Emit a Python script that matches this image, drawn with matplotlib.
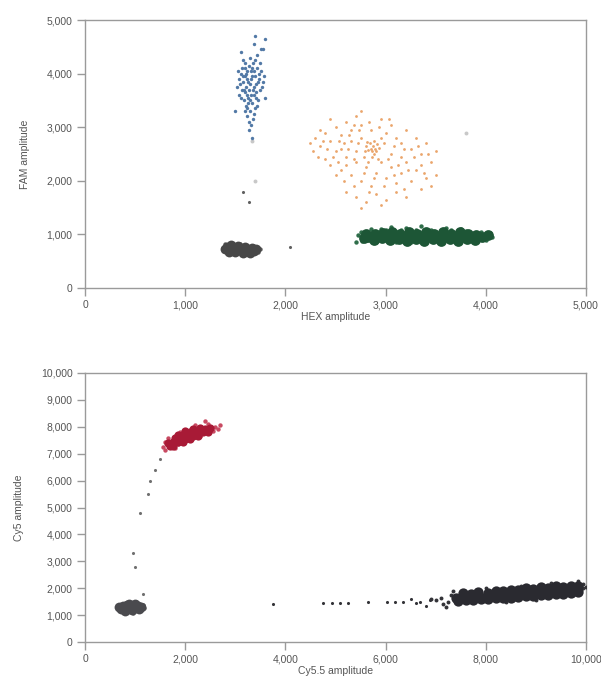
import matplotlib
matplotlib.use("Agg")
import matplotlib.pyplot as plt

plt.rcParams['font.family'] = ['Liberation Sans', 'DejaVu Sans']

# ---------------- Top panel: FAM vs HEX amplitude ----------------
blue_pts = [(1650,3800),(1620,3900),(1680,3700),(1600,3650),(1700,3950),(1660,4050),(1630,3550),(1710,3800),
            (1580,3850),(1690,3600),(1640,4150),(1720,4100),(1570,3700),(1610,3400),(1670,3450),(1740,3900),
            (1560,4000),(1650,3300),(1700,3350),(1620,3200),(1680,3150),(1660,3050),(1700,4250),(1600,4200),
            (1750,3700),(1540,3600),(1590,3500),(1730,3500),(1640,3700),(1670,3950),(1620,4050),(1690,4050),
            (1580,3950),(1650,4300),(1720,4350),(1760,4450),(1780,4450),(1690,4550),(1700,4700),(1800,4650),
            (1560,4400),(1520,3750),(1800,3550),(1780,3850),(1640,2950),(1670,2800),(1500,3300),(1610,3750),
            (1660,3600),(1630,3850),(1710,3650),(1600,3950),(1690,3750),(1650,3500),(1620,3600),(1740,4000),
            (1680,4200),(1570,4100),(1660,3900),(1630,3450),(1550,3800),(1590,3700),(1770,3750),(1760,4050),
            (1540,3900),(1600,3300),(1720,3400),(1580,4250),(1750,4200),(1620,3350),(1710,3550),(1560,3550),
            (1790,3950),(1530,4050),(1690,3250),(1640,3100),(1600,4100),(1730,3850),(1670,4100),(1610,4000)]
orange_pts = [(2850,2600),(2870,2650),(2820,2580),(2900,2550),(2840,2700),(2880,2500),(2800,2650),(2930,2620),
              (2860,2450),(2300,2800),(2350,2650),(2250,2700),(2400,2900),(2450,2750),(2500,3000),(2550,2850),
              (2600,3100),(2650,2950),(2700,3200),(2750,3050),(2950,3150),(3000,2900),(3050,3050),(3100,2800),
              (3150,2700),(3200,2950),(3250,2600),(3300,2800),(3350,2500),(3400,2700),(3450,2350),(3500,2550),
              (2400,2400),(2450,2300),(2500,2550),(2550,2200),(2600,2450),(2650,2100),(2700,2350),(2750,2000),
              (2800,2250),(2850,1900),(2900,2150),(2950,2350),(3000,2050),(3050,2250),(3100,1950),(3150,2150),
              (3200,2350),(3250,2000),(3300,2200),(3350,1850),(3400,2050),(3450,1900),(2600,1800),(2700,1700),
              (2800,1600),(2900,1750),(3000,1650),(3100,1800),(3200,1700),(2750,1500),(2950,1550),(2350,2950),
              (2550,2600),(2650,2750),(2750,2800),(2950,2800),(3050,2500),(2700,2550),(2600,2300),(2500,2100),
              (3150,2450),(2850,2950),(2750,3300),(2450,3150),(3350,2300),(3500,2100),
              (2280,2550),(2330,2450),(2380,2750),(2420,2600),(2480,2450),(2520,2350),(2580,2700),(2620,2600),
              (2680,2400),(2720,2700),(2780,2450),(2820,2350),(2880,2750),(2920,2400),(2980,2700),(3020,2400),
              (3080,2650),(3120,2300),(3180,2600),(3220,2200),(3280,2450),(3320,2650),(3380,2150),(3420,2500),
              (2580,2000),(2680,1900),(2780,2150),(2880,2050),(2980,1900),(3080,2100),(3180,1850),(2830,1800),
              (2630,2850),(2730,2950),(2830,3100),(2930,3000),(3030,3150),(2530,2750),(2680,3050),(2790,2550),
              (2910,2680),(2860,2560),(2810,2720),(2890,2600)]
green_core = [(2820,960),(2880,900),(2890,1010),(2960,940),(2970,1030),(3040,890),(3050,980),(3060,1040),
              (3130,920),(3140,1010),(3210,880),(3220,970),(3230,1040),(3300,910),(3310,1000),(3380,880),
              (3390,970),(3400,1040),(3470,910),(3480,1000),(3550,880),(3560,970),(3570,1040),(3640,910),
              (3650,1000),(3720,880),(3730,970),(3740,1040),(3810,910),(3820,1000),(3890,900),(3900,990),
              (3960,950),(4020,980),(2780,930),(2800,1000)]
green_edge = [(2760,880),(2750,1040),(2900,850),(3000,1080),(3100,860),(3150,1090),(3250,850),(3300,1080),
              (3400,860),(3450,1090),(3550,850),(3650,1080),(3700,860),(3800,1070),(3900,860),(3950,1050),
              (4060,960),(2850,1100),(3050,1130),(3350,1160),(3600,1120),(2720,980),(2700,850),(4040,1030),
              (4000,900),(3200,1120),(2950,1110),(3750,1100)]
gray_core = [(1420,760),(1460,800),(1480,720),(1530,790),(1550,720),(1600,770),(1620,700),(1670,740),
             (1690,690),(1400,720),(1440,680),(1580,650),(1650,650),(1710,720),(1500,670)]
gray_edge = [(1380,740),(1730,680),(1550,830),(1500,640),(1620,630),(1750,720),(1400,820),(1680,790)]
top_outliers = [(2050,760),(1580,1800),(1640,1600)]
top_faint = [(1700,2000),(3800,2900),(1670,2750)]

# ---------------- Bottom panel: Cy5 vs Cy5.5 amplitude ----------------
red_core = [(1650,7400),(1750,7450),(1800,7600),(1900,7550),(1950,7700),(2050,7650),(2100,7800),(2200,7750),
            (2250,7850),(2350,7800),(2400,7900),(2500,7950),(1700,7300),(2000,7550),(2150,7650),
            (1750,7300),(1850,7450),(1950,7450),(2100,7550),(2250,7650),(1850,7700),(2000,7850),(2150,7900),
            (2300,7950),(2050,7750),(1900,7650),(2450,7800)]
red_edge = [(1560,7250),(1600,7450),(2600,8000),(2700,8050),(2450,8100),(2300,7650),(1850,7350),(2150,7950),
            (2400,8200),(1900,7800),(2550,7850),(1650,7600),(1600,7150),(1800,7200),(2200,8050),(2650,7900)]
bottom_outliers = [(1500,6800),(1400,6400),(1300,6000),(1250,5500),(1100,4800),(950,3300),(1000,2800),(1150,1800)]
gray2_core = [(720,1230),(800,1170),(860,1250),(940,1180),(1000,1260),(1080,1220),(760,1330),(840,1380),
              (920,1340),(990,1400),(1060,1340),(1120,1300),(680,1300),(880,1420)]
gray2_edge = [(640,1300),(1170,1250),(1020,1470),(780,1100),(960,1080),(1150,1380)]
black_core = [(7400,1650),(7550,1700),(7700,1620),(7850,1720),(8000,1680),(8150,1760),(8300,1710),(8450,1800),
              (8600,1760),(8750,1850),(8900,1800),(9050,1880),(9200,1850),(9350,1930),(9500,1900),(9650,1980),
              (9800,1960),(7450,1540),(7600,1560),(7750,1550),(7900,1580),(8050,1600),(8200,1620),(8350,1630),
              (8500,1650),(8650,1680),(8800,1700),(8950,1720),(9100,1740),(9250,1760),(9400,1780),(9550,1800),
              (9700,1830),(9850,1850),(7550,1820),(7700,1800),(7850,1860),(8050,1840),(8200,1900),(8350,1880),
              (8500,1950),(8650,1920),(8800,1990),(8950,1960),(9100,2030),(9250,2000),(9400,2070),(9550,2050),
              (9700,2100),(9850,2080)]
black_edge = [(7250,1500),(7150,1400),(7100,1650),(7000,1550),(6900,1600),(7200,1300),(9950,2150),(9900,1950),
              (10000,2050),(9850,2250),(7350,1900),(7300,1750),(9950,2000),(8000,2000),(8700,2100),(9300,2200),
              (8400,1480),(9000,1560)]
black_trail = [(3750,1420),(4750,1450),(4930,1450),(5090,1450),(5250,1450),(5650,1470),(6030,1470),(6190,1500),
               (6350,1480),(6690,1500),(6890,1550),(6500,1600),(6800,1350),(6600,1450)]

top_xticks = [0, 1000, 2000, 3000, 4000, 5000]
top_yticks = [0, 1000, 2000, 3000, 4000, 5000]
bot_xticks = [0, 2000, 4000, 6000, 8000, 10000]
bot_yticks = [0, 1000, 2000, 3000, 4000, 5000, 6000, 7000, 8000, 9000, 10000]


def sc(ax, pts, color, s, alpha=1.0):
    xs = [p[0] for p in pts]
    ys = [p[1] for p in pts]
    ax.scatter(xs, ys, s=s, c=color, linewidths=0, alpha=alpha, zorder=3)


def style(ax, xticks, yticks, xlabel, ylabel):
    for sp in ax.spines.values():
        sp.set_color('#9a9a9a')
        sp.set_linewidth(1.0)
    ax.set_xlim(xticks[0], xticks[-1])
    ax.set_ylim(yticks[0], yticks[-1])
    ax.set_xticks(xticks)
    ax.set_yticks(yticks)
    ax.set_xticklabels([f"{v:,}" for v in xticks])
    ax.set_yticklabels([f"{v:,}" for v in yticks])
    ax.tick_params(direction='out', length=6, width=1, color='#9a9a9a',
                   labelsize=7.5, labelcolor='#555555', pad=3)
    ax.set_xlabel(xlabel, fontsize=7.5, color='#555555', labelpad=1)
    ax.set_ylabel(ylabel, fontsize=7.5, color='#555555', labelpad=12)


fig = plt.figure(figsize=(6.01, 6.93), dpi=100)
ax1 = fig.add_axes([85/601, (693-288)/693, 501/601, 268/693])
ax2 = fig.add_axes([85/601, (693-642)/693, 501/601, 269/693])

# top panel
sc(ax1, top_faint, '#c8c8c8', 8)
sc(ax1, orange_pts, '#eaa66c', 4)
sc(ax1, blue_pts, '#5279a6', 6)
sc(ax1, green_edge, '#2f6e4a', 10)
sc(ax1, green_core, '#1d5636', 60)
sc(ax1, gray_edge, '#5a5a5a', 10)
sc(ax1, gray_core, '#474747', 50)
sc(ax1, top_outliers, '#606060', 5)
style(ax1, top_xticks, top_yticks, 'HEX amplitude', 'FAM amplitude')

# bottom panel
sc(ax2, red_edge, '#c84a62', 10)
sc(ax2, red_core, '#a81a36', 35)
sc(ax2, bottom_outliers, '#707070', 5)
sc(ax2, gray2_edge, '#5a5a5a', 10)
sc(ax2, gray2_core, '#4a4a4e', 50)
sc(ax2, black_trail, '#333338', 5)
sc(ax2, black_edge, '#333338', 8)
sc(ax2, black_core, '#2a2a30', 55)
style(ax2, bot_xticks, bot_yticks, 'Cy5.5 amplitude', 'Cy5 amplitude')

fig.savefig('out.png', dpi=100)
